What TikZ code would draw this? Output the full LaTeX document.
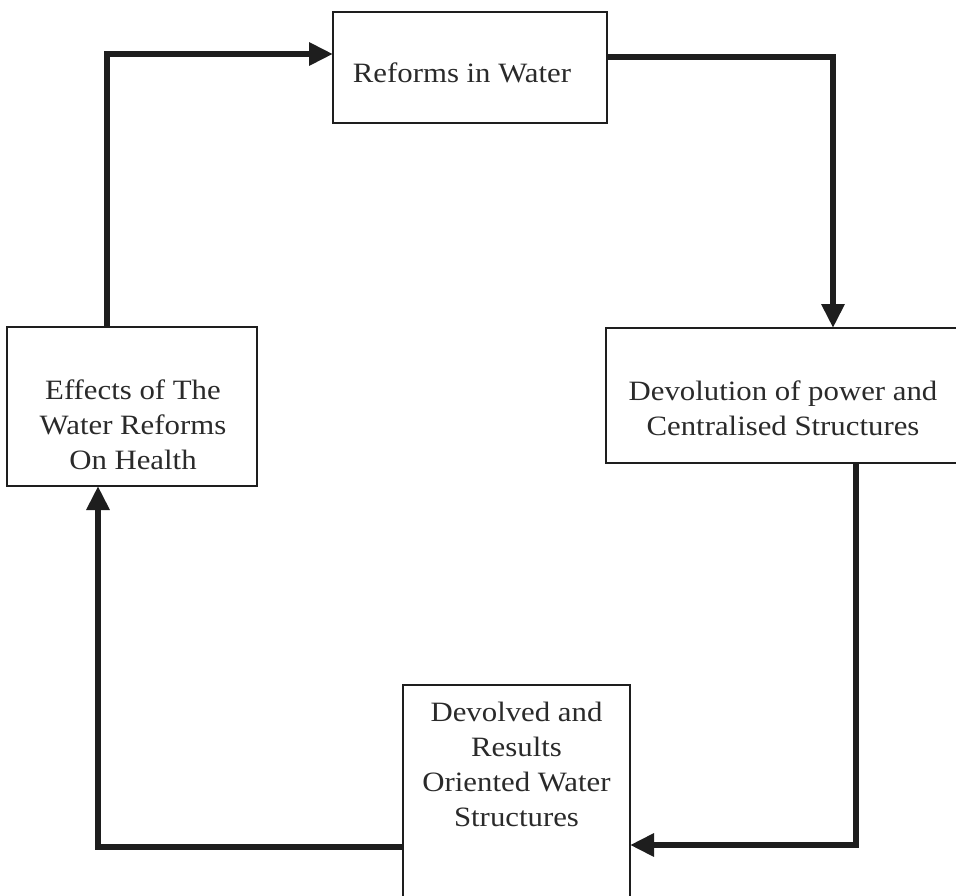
\documentclass[tikz,border=0pt]{standalone}
\usepackage{fontspec}
\setmainfont{Liberation Serif}
\newfontfamily\diagfont[FakeStretch=1.1]{Liberation Serif}
\usetikzlibrary{arrows.meta}
\definecolor{ink}{HTML}{1E1E1E}
\definecolor{txtc}{HTML}{2A2A2A}
\begin{document}
\begin{tikzpicture}[x=1pt,y=-1pt,
  box/.style={draw=ink,line width=2pt,rectangle,outer sep=0pt,inner sep=0pt,fill=none},
  txt/.style={align=center,text=txtc,font=\diagfont\fontsize{28}{35}\selectfont,inner sep=0pt},
  flow/.style={draw=ink,line width=6.5pt,line join=miter,-{Triangle[length=24pt,width=22pt]}}]
\useasboundingbox (0,0) rectangle (956,896);
\clip (0,0) rectangle (956,896);
\fill[white] (0,0) rectangle (956,896);
% boxes
\node[box,minimum width=274pt,minimum height=111pt] (top) at (470,67.5) {};
\node[box,minimum width=250pt,minimum height=159pt] (left) at (132,406.5) {};
\node[box,minimum width=360pt,minimum height=135pt] (right) at (786,395.5) {};
\node[box,minimum width=227pt,minimum height=230pt,anchor=north west] (bot) at (403,685) {};
% texts
\node[txt] (topT) at (462,73) {Reforms in Water};
\node[txt] (leftT) at (133,424.5) {Effects of The\\Water Reforms\\On Health};
\node[txt] (rightT) at (783,408.5) {Devolution of power and\\Centralised Structures};
\node[txt] (botT) at (516.5,764) {Devolved and\\Results\\Oriented Water\\Structures};
% bend points
\coordinate (c1) at (107,54);
\coordinate (c2) at (833,57);
\coordinate (c3) at (856,845);
\coordinate (c4) at (98,847);
% connectors
\draw[flow] (c1 |- left.north) -- (c1) -- (c1 -| top.west);
\draw[flow] (c2 -| top.east) -- (c2) -- (c2 |- right.north);
\draw[flow] (c3 |- right.south) -- (c3) -- (c3 -| bot.east);
\draw[flow] (c4 -| bot.west) -- (c4) -- (c4 |- left.south);
\end{tikzpicture}
\end{document}
